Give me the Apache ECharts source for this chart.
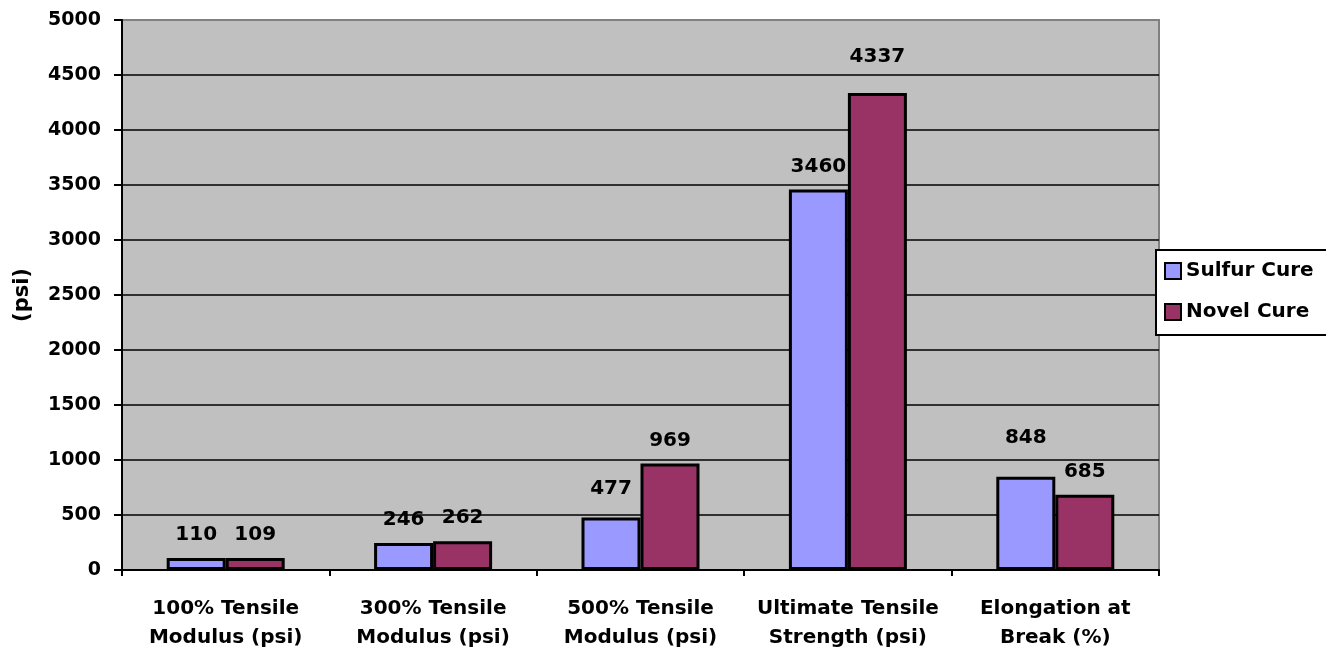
<!DOCTYPE html>
<html>
<head>
<meta charset="utf-8">
<script src="https://cdn.jsdelivr.net/npm/echarts@6/dist/echarts.min.js"></script>
<style>
  html, body { margin: 0; padding: 0; background: #ffffff; }
  #chart { width: 1326px; height: 653px; }
</style>
</head>
<body>
<div id="chart"></div>
<script>
// Tensile properties of the two cure systems
const categories = [
  '100% Tensile\nModulus (psi)',
  '300% Tensile\nModulus (psi)',
  '500% Tensile\nModulus (psi)',
  'Ultimate Tensile\nStrength (psi)',
  'Elongation at\nBreak (%)'
];
const sulfurCure = [110, 246, 477, 3460, 848];
const novelCure = [109, 262, 969, 4337, 685];
const yTicks = [0, 500, 1000, 1500, 2000, 2500, 3000, 3500, 4000, 4500, 5000];

const FONT = '"DejaVu Sans", "Liberation Sans", Arial, sans-serif';

// extra lift (px) for a few value labels that sit higher above their bars
const sulfurLift = [0, 0, 6, 0, 16];
const novelLift = [0, 0, 0, 13, 0];

function barData(values, lift) {
  return values.map((v, i) => ({
    value: v,
    label: { offset: [0, -lift[i]] }
  }));
}

const labelStyle = {
  show: true,
  position: 'top',
  distance: 13,
  color: '#000',
  fontFamily: FONT,
  fontWeight: 'bold',
  fontSize: 20
};

// gridlines are black, except the top one which is part of the grey frame
const gridLineColors = yTicks.map((v, i) => i === yTicks.length - 1 ? '#808080' : '#000');

const chart = echarts.init(document.getElementById('chart'), null, { renderer: 'canvas' });
chart.setOption({
  animation: false,
  backgroundColor: '#ffffff',
  grid: {
    left: 122, top: 20, right: 167, bottom: 83,
    outerBoundsMode: 'none',
    containLabel: false,
    show: true,
    backgroundColor: '#C0C0C0',
    borderColor: '#808080',
    borderWidth: 2
  },
  legend: {
    orient: 'vertical',
    left: 1156,
    top: 250,
    padding: [11, 14, 13, 8],
    itemGap: 21,
    itemWidth: 16,
    itemHeight: 16,
    icon: 'rect',
    backgroundColor: '#ffffff',
    borderColor: '#000',
    borderWidth: 2,
    textStyle: { fontFamily: FONT, fontWeight: 'bold', fontSize: 20, color: '#000' },
    data: ['Sulfur Cure', 'Novel Cure']
  },
  xAxis: {
    type: 'category',
    data: categories,
    axisLine: { lineStyle: { color: '#000', width: 2 } },
    axisTick: { show: true, inside: false, length: 6, lineStyle: { color: '#000', width: 2 } },
    axisLabel: {
      color: '#000', fontFamily: FONT, fontWeight: 'bold', fontSize: 20,
      lineHeight: 29, margin: 24, interval: 0
    }
  },
  yAxis: {
    type: 'value',
    min: yTicks[0],
    max: yTicks[yTicks.length - 1],
    interval: yTicks[1] - yTicks[0],
    name: '(psi)',
    nameLocation: 'middle',
    nameGap: 89,
    nameRotate: 90,
    nameTextStyle: { color: '#000', fontFamily: FONT, fontWeight: 'bold', fontSize: 21 },
    axisLine: { show: true, lineStyle: { color: '#000', width: 2 } },
    axisTick: { show: true, inside: false, length: 8, lineStyle: { color: '#000', width: 2 } },
    axisLabel: {
      color: '#000', fontFamily: FONT, fontWeight: 'bold', fontSize: 19, margin: 21,
      formatter: v => yTicks.includes(v) ? String(v) : ''
    },
    splitLine: { show: true, lineStyle: { color: gridLineColors, width: 1.5 } }
  },
  series: [
    {
      name: 'Sulfur Cure',
      type: 'bar',
      data: barData(sulfurCure, sulfurLift),
      barWidth: 59,
      barGap: '0%',
      itemStyle: { color: '#9999FF', borderColor: '#000', borderWidth: 3 },
      label: labelStyle
    },
    {
      name: 'Novel Cure',
      type: 'bar',
      data: barData(novelCure, novelLift),
      barWidth: 59,
      barGap: '0%',
      itemStyle: { color: '#993366', borderColor: '#000', borderWidth: 3 },
      label: labelStyle
    }
  ]
});
</script>
</body>
</html>
